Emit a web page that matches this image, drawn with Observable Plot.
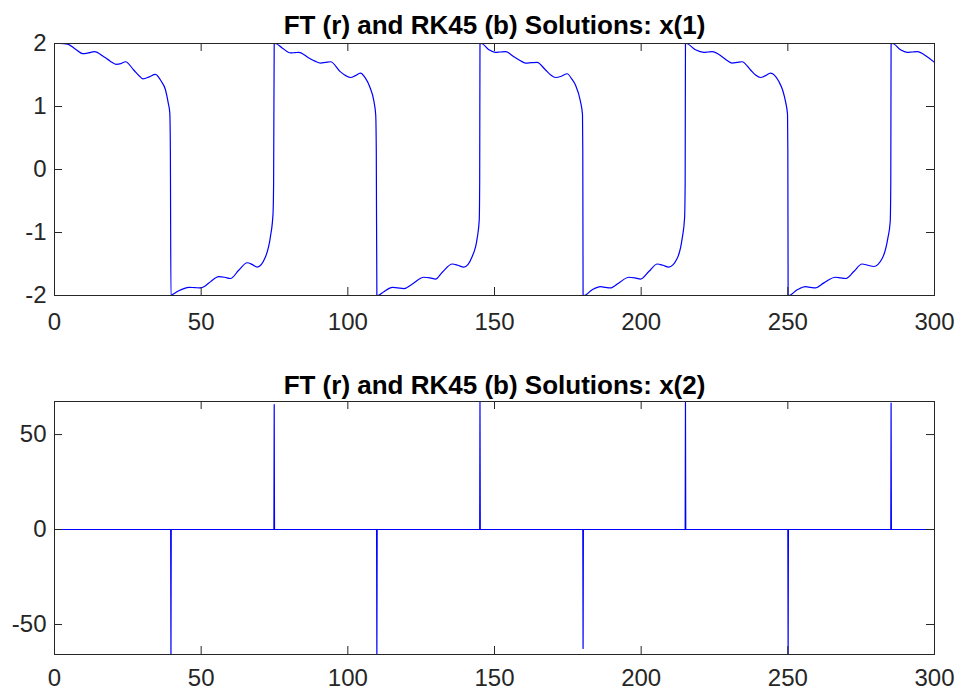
<!DOCTYPE html>
<html><head><meta charset="utf-8">
<script src="https://cdn.jsdelivr.net/npm/d3@7"></script>
<script src="https://cdn.jsdelivr.net/npm/@observablehq/plot@0.6"></script>
<style>
body{margin:0;background:#fff;}
#fig{width:955px;height:690px;}
#fig svg{display:block;}
</style></head><body><div id="fig"></div>
<script>
// ---- tick labels & titles ----
const xTicks = [0, 50, 100, 150, 200, 250, 300];
const yTicks1 = [-2, -1, 0, 1, 2];
const yTicks2 = [-50, 0, 50];
const title1 = "FT (r) and RK45 (b) Solutions: x(1)";
const title2 = "FT (r) and RK45 (b) Solutions: x(2)";

// ---- x(1) solution (time, value) ----
const t1 = [
  // high branch 1
  0, 2, 4.5, 7.2, 9.6, 11.5, 13.6, 16.8, 19, 21, 22.6, 24.2, 27, 29, 30.2, 32.3, 34.4, 36.4, 37.8, 38.8, 39.3, 39.5,
  // low branch 1
  39.7, 40.1, 42.2, 44.1, 45.8, 47.8, 49.8, 51.6, 53.2, 56, 58, 60, 62.8, 65.7, 67.5, 69.1, 71.9, 73.6, 74.5, 74.7,
  // high branch 2
  74.9, 75.3, 77.6, 80.5, 82, 83.3, 86.7, 88.8, 90.7, 92.4, 94.1, 97.5, 99.3, 100.9, 102.6, 104.3, 106, 107.5, 108.9, 109.5, 109.7,
  // low branch 2
  109.9, 110.2, 112.3, 115.1, 117, 119.1, 121.9, 125.9, 128, 129.9, 132.2, 135.6, 137.5, 139.5, 142.4, 144.1, 144.8, 144.95,
  // high branch 3
  145.05, 145.5, 148.1, 150.3, 152, 153.8, 156.6, 158.7, 160.6, 162.5, 164.5, 167.4, 169.2, 170.8, 172.8, 174.8, 176.3, 177.6, 179.3, 180.0, 180.1,
  // low branch 3
  180.2, 180.5, 183.3, 186.1, 187.8, 189.5, 192.4, 195.8, 197.8, 199.8, 202.6, 205.5, 207.4, 209.4, 212.3, 214.0, 214.8, 215.0,
  // high branch 4
  215.1, 215.4, 218.5, 221.4, 222.8, 224.2, 227.6, 229.3, 231.0, 232.7, 234.4, 237.3, 239, 240.7, 242.4, 244.1, 246.9, 248.3, 249.2, 249.9, 250.0,
  // low branch 4
  250.1, 250.3, 253.2, 256.0, 257.7, 259.4, 262.3, 266.2, 268, 269.7, 272.5, 275.3, 277.3, 279.3, 282.2, 284.1, 284.9, 285.1,
  // high branch 5
  285.2, 285.7, 288.4, 290.7, 292.4, 294.1, 297.5, 300
];
const x1 = [
  2.0, 2.0, 1.99, 1.91, 1.84, 1.85, 1.87, 1.79, 1.72, 1.67, 1.68, 1.71, 1.58, 1.48, 1.44, 1.47, 1.51, 1.40, 1.27, 1.05, 0.9, 0.3,
  -2.0, -1.99, -1.93, -1.89, -1.87, -1.875, -1.88, -1.84, -1.78, -1.70, -1.71, -1.73, -1.60, -1.48, -1.51, -1.55, -1.39, -1.07, -0.7, -0.2,
  1.99, 2.0, 1.93, 1.85, 1.855, 1.86, 1.77, 1.72, 1.69, 1.70, 1.71, 1.55, 1.49, 1.46, 1.49, 1.53, 1.45, 1.31, 1.08, 0.87, 0.3,
  -1.99, -2.0, -1.94, -1.87, -1.88, -1.89, -1.82, -1.71, -1.72, -1.74, -1.63, -1.50, -1.52, -1.55, -1.38, -1.09, -0.8, -0.2,
  1.99, 2.0, 1.90, 1.86, 1.865, 1.87, 1.79, 1.73, 1.69, 1.695, 1.70, 1.58, 1.50, 1.46, 1.48, 1.52, 1.44, 1.34, 1.08, 0.87, 0.3,
  -1.99, -2.0, -1.91, -1.86, -1.87, -1.88, -1.80, -1.71, -1.72, -1.74, -1.62, -1.50, -1.52, -1.55, -1.41, -1.09, -0.77, -0.2,
  1.99, 2.0, 1.90, 1.86, 1.865, 1.87, 1.79, 1.73, 1.69, 1.70, 1.71, 1.58, 1.50, 1.46, 1.49, 1.53, 1.40, 1.25, 1.08, 0.87, 0.3,
  -1.99, -2.0, -1.91, -1.86, -1.87, -1.88, -1.80, -1.71, -1.72, -1.73, -1.62, -1.50, -1.52, -1.54, -1.41, -1.09, -0.83, -0.2,
  1.99, 2.0, 1.90, 1.86, 1.865, 1.87, 1.79, 1.70
];

// ---- x(2) solution (time, value) ----
const t2 = [0, 39.6, 39.7, 39.8, 74.8, 74.9, 75.0, 109.8, 109.9, 110.0, 144.95, 145.05, 145.15,
  180.1, 180.2, 180.3, 215.0, 215.1, 215.2, 250.0, 250.1, 250.2, 285.1, 285.2, 285.3, 300];
const x2 = [0, 0, -65.8, 0, 0, 65.8, 0, 0, -65.8, 0, 0, 67.4, 0,
  0, -62.6, 0, 0, 66.9, 0, 0, -65.8, 0, 0, 66.5, 0, 0];

const FONT = "'Liberation Sans', Arial, Helvetica, sans-serif";
const AX = "#262626";

function panel({t, x, yTicks, title, height, marginTop, marginBottom, titleGap, xPad, curve}) {
  const data = t.map((d, i) => ({t: d, v: x[i]}));
  const W = 955, mL = 54, mR = 21;
  const innerH = height - marginTop - marginBottom;
  const innerW = W - mL - mR;
  const tick = 8;
  return Plot.plot({
    width: W, height, marginTop, marginBottom, marginLeft: mL, marginRight: mR,
    style: {fontFamily: FONT, background: "#fff", color: AX, overflow: "visible"},
    x: {domain: d3.extent(t), label: null},
    y: {domain: d3.extent(x), label: null},
    marks: [
      Plot.line(data, {x: "t", y: "v", stroke: "#0000ff", strokeWidth: 1.2, curve}),
      Plot.frame({stroke: AX, strokeWidth: 1}),
      Plot.tickX(xTicks, {x: d => d, insetTop: innerH - tick, stroke: AX}),
      Plot.tickX(xTicks, {x: d => d, insetBottom: innerH - tick, stroke: AX}),
      Plot.tickY(yTicks, {y: d => d, insetRight: innerW - tick, stroke: AX}),
      Plot.tickY(yTicks, {y: d => d, insetLeft: innerW - tick, stroke: AX}),
      Plot.axisX(xTicks, {tickSize: 0, tickPadding: xPad, fontSize: 24, label: null, tickFormat: d => String(d), fill: AX}),
      Plot.axisY(yTicks, {tickSize: 0, tickPadding: 8, fontSize: 24, label: null, tickFormat: d => String(d), fill: AX}),
      Plot.text([title], {text: d => d, frameAnchor: "top", lineAnchor: "bottom", dy: -titleGap,
        fontSize: 26, fontWeight: "bold", fill: "#000", fontFamily: FONT})
    ]
  });
}

const fig = document.getElementById("fig");
fig.append(panel({t: t1, x: x1, yTicks: yTicks1, title: title1, height: 345,
  marginTop: 43, marginBottom: 50, titleGap: 9.5, xPad: 17, curve: "monotone-x"}));
fig.append(panel({t: t2, x: x2, yTicks: yTicks2, title: title2, height: 345,
  marginTop: 56, marginBottom: 36, titleGap: 7.5, xPad: 14, curve: "linear"}));
</script>
</body></html>
